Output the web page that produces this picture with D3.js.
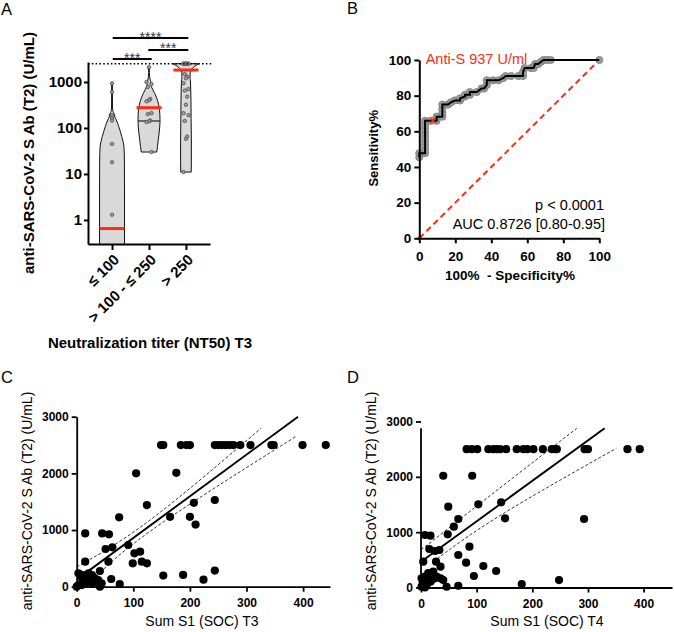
<!DOCTYPE html>
<html><head><meta charset="utf-8">
<script src="https://cdn.jsdelivr.net/npm/d3@7"></script>
<style>
body{margin:0;background:#fff;}
svg text{font-family:"Liberation Sans",Arial,Helvetica,sans-serif;}
</style></head><body>
<svg id="fig" width="674" height="632"></svg>
<script>
// ================= DATA =================
// Panel A – violin plot
const ntGroups = ["≤ 100", "> 100 - ≤ 250", "> 250"];
const antiSTicks = [1, 10, 100, 1000];
const ulodValue = 2500;
const g1Values = [937, 600, 190, 165, 145, 45, 18, 1.3];
const g2Values = [2090, 1000, 900, 780, 430, 400, 380, 210, 200, 145, 140, 135, 30];
const g3Values = [2500, 2500, 2500, 2500, 2500, 2500, 2500, 2500, 1500, 1300, 1200, 940, 700, 650, 480, 320, 210, 190, 142, 65, 58, 11];
// violin outlines: value levels and relative density
const g1ProfileV = [0.1, 0.3, 3, 20, 40, 65, 107, 150, 175, 195, 215, 250, 300, 937];
const g1ProfileD = [1, 1, 1, 0.99, 0.95, 0.78, 0.54, 0.34, 0.22, 0.2, 0.12, 0.05, 0.035, 0.03];
const g2ProfileV = [30, 40, 55, 100, 150, 250, 400, 570, 740, 850, 950, 1100, 1300, 1600, 2090];
const g2ProfileD = [0.62, 0.68, 0.74, 0.85, 0.88, 0.84, 0.68, 0.45, 0.24, 0.15, 0.16, 0.1, 0.05, 0.03, 0.03];
const g3ProfileV = [11, 20, 60, 150, 400, 700, 1000, 1300, 1600, 1900, 2200, 2500];
const g3ProfileD = [0.42, 0.43, 0.43, 0.41, 0.4, 0.38, 0.36, 0.32, 0.34, 0.45, 0.7, 1.06];
const groupMedians = [0.65, 276, 1820];
const groupLowerQuartiles = [null, 142, null];
const sigPairs = [[0, 1], [1, 2], [0, 2]];
const sigLabels = ["***", "***", "****"];

// Panel B – ROC curve
const rocFpr = [0, 0, 3.2, 3.2, 3.2, 3.2, 3.2, 3.2, 3.2, 3.2, 3.2, 6.4, 9.6, 9.6, 12.8, 12.8, 12.8, 12.8, 16, 17.5, 19.8, 22.6, 22.6, 25.4, 25.4, 28.1, 28.1, 31.9, 34.6, 36, 37.5, 37.5, 41, 44, 46.5, 48, 51, 55, 57.6, 57.6, 58.5, 62, 63.5, 64.3, 66, 67.5, 69, 71, 73, 100];
const rocTpr = [45.5, 47.7, 47.7, 50, 52.3, 54.5, 56.8, 59.1, 61.4, 63.6, 65.9, 65.9, 65.9, 68.2, 68.2, 70.5, 72.7, 75, 75, 76.2, 77.3, 77.3, 78.5, 79.5, 80.5, 80.5, 82, 82, 84, 84, 86, 88.6, 88.6, 88.6, 89.8, 91, 91, 91, 91, 93.2, 95.5, 95.5, 95.5, 97.7, 97.7, 98.9, 100, 100, 100, 100];
const rocCutoff = [7.5, 66];
const rocCutoffLabel = "Anti-S 937 U/ml";
const rocStats = ["p < 0.0001", "AUC 0.8726 [0.80-0.95]"];
const pctTicks = [0, 20, 40, 60, 80, 100];

// Panel C – Sum S1 (SOC) T3 vs anti-S
const cSoc = [149, 153, 184, 194, 200, 244, 250, 256, 263, 270, 277, 289, 307, 344, 348, 399, 440,
  105, 176, 124, 207, 244, 75, 165, 200, 210, 15, 45, 57, 91, 51, 63, 102, 112,
  15, 56, 115, 99, 124, 41, 244, 153, 188, 224, 61, 76,
  3, 9, 15, 21, 27, 23, 32, 38, 44, 10, 15, 3, 9, 0, 41, 28, 18, 36, 6];
const cAntiS = [2500, 2500, 2500, 2500, 2500, 2500, 2500, 2500, 2500, 2500, 2500, 2500, 2500, 2500, 2500, 2500, 2500,
  2000, 2010, 1440, 1480, 1530, 1225, 1233, 1233, 1097, 940, 940, 925, 736, 665, 695, 589, 618,
  441, 441, 441, 413, 413, 277, 285, 196, 207, 124, 136, 48,
  236, 206, 200, 236, 206, 147, 147, 118, 59, 88, 118, 29, 29, 0, 0, 60, 70, 107, 36];
const cFitX = [0, 391], cFitY = [125, 3000];
const cUpperX = [0, 130, 326], cUpperY = [350, 1180, 2800];
const cLowerX = [17, 130, 387], cLowerY = [0, 980, 2650];

// Panel D – Sum S1 (SOC) T4 vs anti-S
const dSoc = [82, 91, 101, 121, 130, 136, 142, 153, 172, 184, 191, 202, 219, 235, 241, 244, 294, 300, 371, 393,
  40, 92, 49, 103, 144, 151, 293, 67, 59, 48, 7, 17, 15, 25, 33, 87, 67, 4, 27, 35, 81, 112, 135, 22, 95,
  35, 40, 46, 67, 181, 248, 1, 7, 13, 19, 25, 4, 10, 17, 1, 7, 28, 13, 3];
const dAntiS = [2500, 2500, 2500, 2500, 2500, 2500, 2500, 2500, 2500, 2500, 2500, 2500, 2500, 2500, 2500, 2500, 2500, 2500, 2500, 2500,
  2020, 2020, 1460, 1503, 1540, 1250, 1238, 1238, 1099, 961, 949, 936, 696, 660, 678, 738, 587, 466, 466, 376, 448, 389, 298, 286, 208,
  166, 135, 14, 32, 63, 135, 166, 196, 136, 136, 166, 76, 45, 105, 15, 0, 196, 260, 105];
const dFitX = [0, 330], dFitY = [466, 2877];
const dUpperX = [0, 142, 280], dUpperY = [680, 1800, 2877];
const dLowerX = [22, 142, 351], dLowerY = [466, 1300, 2516];
const socTicks = [0, 100, 200, 300, 400];
const linTicks = [0, 1000, 2000, 3000];

// ================= DRAWING =================
const svg = d3.select("#fig");
const RED = "#ff2a14";

function styleAxis(g, size, weight, sw) {
  g.selectAll("text").attr("font-size", size).attr("font-weight", weight).attr("fill", "#000");
  g.selectAll("line").attr("stroke", "#000").attr("stroke-width", sw);
  g.select(".domain").attr("stroke", "#000").attr("stroke-width", sw);
}
function label(x, y, txt, size, weight, anchor, rot, fill) {
  const t = svg.append("text").attr("font-size", size).attr("font-weight", weight || "normal")
    .attr("text-anchor", anchor || "middle").attr("fill", fill || "#000").text(txt);
  if (rot) t.attr("transform", `translate(${x},${y}) rotate(${rot})`);
  else t.attr("x", x).attr("y", y);
  return t;
}

// Panel letters
label(1, 15, "A", 16.5, "normal", "start");
label(347, 14, "B", 16.5, "normal", "start");
label(1, 383, "C", 16.5, "normal", "start");
label(347, 383, "D", 16.5, "normal", "start");

// ---------- Panel A ----------
const yA = d3.scaleLog().domain([0.3, 2722]).range([244, 62]);
const xA = d3.scalePoint().domain(ntGroups).range([88, 210]).padding(0.65);
const wA = d3.scaleLinear().domain([0, 1]).range([0, 12.5]);

svg.append("clipPath").attr("id", "clipA").append("rect").attr("x", 80).attr("y", 40).attr("width", 140).attr("height", 204);
const gA = svg.append("g").attr("clip-path", "url(#clipA)");

const profiles = [
  g1ProfileV.map((v, i) => ({v, d: g1ProfileD[i]})),
  g2ProfileV.map((v, i) => ({v, d: g2ProfileD[i]})),
  g3ProfileV.map((v, i) => ({v, d: g3ProfileD[i]}))
];
const groupValues = [g1Values, g2Values, g3Values];

ntGroups.forEach((grp, i) => {
  const cx = xA(grp);
  const area = d3.area()
    .y(d => yA(d.v))
    .x0(d => cx - wA(d.d))
    .x1(d => cx + wA(d.d))
    .curve(d3.curveMonotoneY);
  gA.append("path").datum(profiles[i]).attr("d", area)
    .attr("fill", "#d9d9d9").attr("stroke", "#111").attr("stroke-width", 1);
});

// lower quartile line (group 2)
ntGroups.forEach((grp, i) => {
  const q = groupLowerQuartiles[i];
  if (q == null) return;
  const cx = xA(grp);
  gA.append("line").attr("x1", cx - wA(0.87)).attr("x2", cx + wA(0.87))
    .attr("y1", yA(q)).attr("y2", yA(q)).attr("stroke", "#222").attr("stroke-width", 1.2);
});

// data points
const offsets = [0, -2.5, 2.5, -1.2, 1.2];
ntGroups.forEach((grp, i) => {
  const cx = xA(grp);
  gA.selectAll(null).data(groupValues[i]).join("circle")
    .attr("cx", (d, j) => cx + (groupValues[i].length > 8 ? offsets[j % offsets.length] : 0))
    .attr("cy", d => yA(d)).attr("r", 1.7)
    .attr("fill", "#a6a6a6").attr("stroke", "#444").attr("stroke-width", 0.8);
});

// medians (red)
ntGroups.forEach((grp, i) => {
  const cx = xA(grp);
  gA.append("line").attr("x1", cx - 12.5).attr("x2", cx + 12.5)
    .attr("y1", yA(groupMedians[i])).attr("y2", yA(groupMedians[i]))
    .attr("stroke", RED).attr("stroke-width", 3);
});

// ULOD dotted line
svg.append("line").attr("x1", 88).attr("x2", 213).attr("y1", yA(ulodValue)).attr("y2", yA(ulodValue))
  .attr("stroke", "#000").attr("stroke-width", 1.6).attr("stroke-dasharray", "1.6,2.2");

// axes A
const axAy = svg.append("g").attr("transform", "translate(88,0)")
  .call(d3.axisLeft(yA).tickValues(antiSTicks).tickFormat(d3.format("d")).tickSize(4).tickPadding(2).tickSizeOuter(0));
styleAxis(axAy, 15, "bold", 2);
const axAx = svg.append("g").attr("transform", "translate(0,244)")
  .call(d3.axisBottom(xA).tickSize(6).tickSizeOuter(0));
styleAxis(axAx, 15, "bold", 2);
axAx.selectAll("text").attr("x", 0).attr("y", 0).attr("dy", "0.35em")
  .attr("text-anchor", "end").attr("transform", "translate(4,13) rotate(-45)");

// significance bars
const sigY = [59, 50, 38];
const sigTextY = [63, 53, 42];
const sigX1 = [112.7, 148.3, 112.7], sigX2 = [151.7, 188.3, 188.3];
sigPairs.forEach((p, k) => {
  svg.append("line").attr("x1", sigX1[k]).attr("x2", sigX2[k]).attr("y1", sigY[k]).attr("y2", sigY[k])
    .attr("stroke", "#000").attr("stroke-width", 2);
  label((sigX1[k] + sigX2[k]) / 2, sigTextY[k], sigLabels[k], 14, "normal", "middle", null, "#333");
});

label(34, 153, "anti-SARS-CoV-2 S Ab (T2) (U/mL)", 15, "bold", "middle", -90);
label(150, 348, "Neutralization titer (NT50) T3", 15, "bold", "middle");

// ---------- Panel B ----------
const xB = d3.scaleLinear().domain([0, 100]).range([419.3, 599.3]);
const yB = d3.scaleLinear().domain([0, 100]).range([238.3, 60]);

svg.append("line").attr("x1", xB(0)).attr("y1", yB(0)).attr("x2", xB(100)).attr("y2", yB(100))
  .attr("stroke", RED).attr("stroke-width", 2).attr("stroke-dasharray", "6,4");
svg.append("circle").attr("cx", xB(0)).attr("cy", yB(0)).attr("r", 2).attr("fill", RED);

const roc = rocFpr.map((f, i) => [f, rocTpr[i]]);
svg.selectAll(null).data(roc).join("circle")
  .attr("cx", d => xB(d[0])).attr("cy", d => yB(d[1])).attr("r", 3.6)
  .attr("fill", "#9a9a9a").attr("stroke", "#7a7a7a").attr("stroke-width", 0.8);
svg.append("path").datum(roc)
  .attr("d", d3.line().x(d => xB(d[0])).y(d => yB(d[1])))
  .attr("fill", "none").attr("stroke", "#000").attr("stroke-width", 2);
// cutoff marker
const cx0 = xB(rocCutoff[0]), cy0 = yB(rocCutoff[1]);
svg.append("path").attr("d", `M${cx0-2.5},${cy0-2.5}L${cx0+2.5},${cy0+2.5}M${cx0-2.5},${cy0+2.5}L${cx0+2.5},${cy0-2.5}`)
  .attr("stroke", RED).attr("stroke-width", 1.5);

const axBy = svg.append("g").attr("transform", `translate(${xB(0)},0)`)
  .call(d3.axisLeft(yB).tickValues(pctTicks).tickSize(5).tickPadding(3).tickSizeOuter(0));
styleAxis(axBy, 13.5, "bold", 2);
const axBx = svg.append("g").attr("transform", `translate(0,${yB(0)})`)
  .call(d3.axisBottom(xB).tickValues(pctTicks).tickSize(5).tickPadding(8).tickSizeOuter(0));
styleAxis(axBx, 13.5, "bold", 2);

label(425.7, 64, rocCutoffLabel, 14.5, "normal", "start", null, RED);
label(604, 210, rocStats[0], 14.5, "normal", "end");
label(605, 228.5, rocStats[1], 14.5, "normal", "end");
label(377.5, 148.3, "Sensitivity%", 13, "bold", "middle", -90);
label(510, 280, "100%  - Specificity%", 13.5, "bold", "middle").style("white-space", "pre");

// ---------- Panels C & D ----------
function scatterPanel(opt) {
  const x = d3.scaleLinear().domain(opt.xDom).range(opt.xRange);
  const y = d3.scaleLinear().domain([0, 3000]).range(opt.yRange);
  const g = svg.append("g");
  g.selectAll("circle").data(opt.xs.map((v, i) => [v, opt.ys[i]])).join("circle")
    .attr("cx", d => x(d[0])).attr("cy", d => y(d[1])).attr("r", 4.1).attr("fill", "#000");
  const ln = d3.line().x(d => x(d[0])).y(d => y(d[1]));
  const lc = d3.line().x(d => x(d[0])).y(d => y(d[1])).curve(d3.curveNatural);
  g.append("path").datum(opt.fitX.map((v, i) => [v, opt.fitY[i]])).attr("d", ln)
    .attr("stroke", "#000").attr("stroke-width", 1.9).attr("fill", "none");
  [[opt.upX, opt.upY], [opt.loX, opt.loY]].forEach(([bx, by]) => {
    g.append("path").datum(bx.map((v, i) => [v, by[i]])).attr("d", lc)
      .attr("stroke", "#000").attr("stroke-width", 0.8).attr("stroke-dasharray", "3,2").attr("fill", "none");
  });
  const ay = svg.append("g").attr("transform", `translate(${opt.xRange[0]},0)`)
    .call(d3.axisLeft(y).tickValues(linTicks).tickFormat(d3.format("d")).tickSize(5).tickPadding(3).tickSizeOuter(0));
  styleAxis(ay, 12, "bold", 1.8);
  if (opt.yAxisTop != null) {
    ay.select(".domain").attr("d", `M0,${y(0)}V${y(opt.yAxisTop)}`);
  }
  const ax = svg.append("g").attr("transform", `translate(0,${y(0)})`)
    .call(d3.axisBottom(x).tickValues(socTicks).tickFormat(d3.format("d")).tickSize(5).tickPadding(6.5).tickSizeOuter(0));
  styleAxis(ax, 12, "bold", 1.8);
  label(opt.titleX, 501, "anti-SARS-CoV-2 S Ab (T2) (U/mL)", 14, "normal", "middle", -90);
  label(opt.xTitleX, 626, opt.xTitle, 14, "normal", "middle");
}

scatterPanel({xDom: [0, 447.5], xRange: [76.7, 330], yRange: [586.7, 416.7],
  xs: cSoc, ys: cAntiS, fitX: cFitX, fitY: cFitY, upX: cUpperX, upY: cUpperY, loX: cLowerX, loY: cLowerY,
  titleX: 32, xTitleX: 202, xTitle: "Sum S1 (SOC) T3"});
scatterPanel({xDom: [0, 451], xRange: [421, 672], yRange: [587.5, 421.5],
  xs: dSoc, ys: dAntiS, fitX: dFitX, fitY: dFitY, upX: dUpperX, upY: dUpperY, loX: dLowerX, loY: dLowerY,
  yAxisTop: 2880, titleX: 375.5, xTitleX: 547, xTitle: "Sum S1 (SOC) T4"});
</script>
</body></html>
